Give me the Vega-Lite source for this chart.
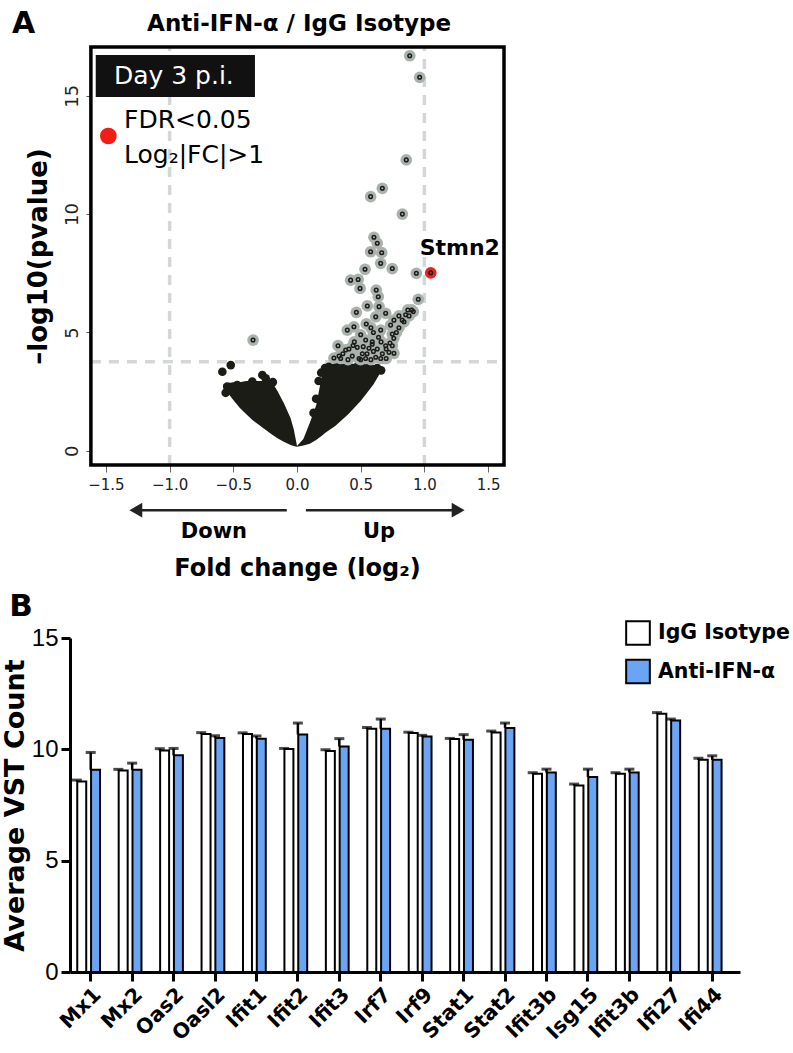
{
  "$schema": "https://vega.github.io/schema/vega-lite/v6.json",
  "padding": {"left": 1, "top": 9, "right": 5, "bottom": 5},
  "config": {"font": "DejaVu Sans", "view": {"stroke": null}, "axis": {"grid": false}},
  "bounds": "flush",
  "spacing": 173,
  "datasets": {
    "sig": [
      {"x": 0.885, "y": 16.69}, {"x": 0.963, "y": 15.78}, {"x": 0.858, "y": 12.29}, {"x": 0.67, "y": 11.09},
      {"x": 0.578, "y": 10.74}, {"x": 0.827, "y": 10.0}, {"x": 0.604, "y": 9.02}, {"x": 0.63, "y": 8.77},
      {"x": 0.578, "y": 8.41}, {"x": 0.665, "y": 8.37}, {"x": 0.657, "y": 7.92}, {"x": 0.748, "y": 7.7},
      {"x": 0.534, "y": 7.67}, {"x": 0.937, "y": 7.5}, {"x": 0.421, "y": 7.21}, {"x": 0.48, "y": 7.24},
      {"x": 0.495, "y": 6.86}, {"x": 0.622, "y": 6.79}, {"x": 0.638, "y": 6.51}, {"x": 0.952, "y": 6.4},
      {"x": 0.913, "y": 5.88}, {"x": 0.853, "y": 5.75}, {"x": 0.466, "y": 5.85}, {"x": 0.552, "y": 6.12},
      {"x": 0.644, "y": 6.09}, {"x": 0.696, "y": 5.81}, {"x": 0.761, "y": 5.52}, {"x": 0.826, "y": 5.52},
      {"x": 0.618, "y": 5.66}, {"x": 0.544, "y": 5.36}, {"x": 0.447, "y": 5.24}, {"x": 0.395, "y": 5.1},
      {"x": 0.657, "y": 5.1}, {"x": 0.748, "y": 4.93}, {"x": 0.539, "y": 4.68}, {"x": 0.322, "y": 4.44},
      {"x": 0.408, "y": 4.3}, {"x": 0.473, "y": 4.37}, {"x": 0.59, "y": 4.5}, {"x": 0.696, "y": 4.44},
      {"x": 0.748, "y": 4.44}, {"x": 0.722, "y": 4.16}, {"x": 0.33, "y": 4.0}, {"x": 0.434, "y": 4.0},
      {"x": 0.513, "y": 4.1}, {"x": 0.618, "y": 3.95}, {"x": 0.539, "y": 3.9}, {"x": 0.657, "y": 3.9},
      {"x": 0.591, "y": 4.61}, {"x": 0.761, "y": 4.12}, {"x": 0.382, "y": 4.26}, {"x": 0.565, "y": 4.33},
      {"x": 0.487, "y": 3.9}, {"x": 0.343, "y": 3.9}, {"x": 0.735, "y": 5.31}, {"x": 0.8, "y": 5.7},
      {"x": 0.87, "y": 5.95}, {"x": 0.6, "y": 4.2}, {"x": 0.45, "y": 4.6}, {"x": -0.345, "y": 4.68},
      {"x": 0.78, "y": 5.0}, {"x": 0.8, "y": 5.2}, {"x": 0.84, "y": 5.45}, {"x": 0.88, "y": 5.7},
      {"x": 0.9, "y": 5.95}, {"x": 0.76, "y": 4.75}, {"x": 0.73, "y": 4.55}, {"x": 0.7, "y": 4.3},
      {"x": 0.67, "y": 4.1}, {"x": 0.5, "y": 3.85}, {"x": 0.4, "y": 3.85}, {"x": 0.36, "y": 4.1},
      {"x": 0.58, "y": 3.85}, {"x": 0.44, "y": 4.45}, {"x": 0.63, "y": 4.3}, {"x": 0.66, "y": 4.6},
      {"x": 0.55, "y": 4.1}, {"x": 0.6, "y": 5.0}, {"x": 0.5, "y": 4.9}, {"x": 0.58, "y": 5.2},
      {"x": 0.7, "y": 3.9}, {"x": 0.29, "y": 3.92}, {"x": 0.52, "y": 4.4}, {"x": 0.64, "y": 4.8}
    ],
    "bars": [
      {"gene": "Mx1", "group": "IgG Isotype", "value": 8.56, "hi": 8.62},
      {"gene": "Mx1", "group": "Anti-IFN-α", "value": 9.08, "hi": 9.86},
      {"gene": "Mx2", "group": "IgG Isotype", "value": 9.05, "hi": 9.1},
      {"gene": "Mx2", "group": "Anti-IFN-α", "value": 9.08, "hi": 9.38},
      {"gene": "Oas2", "group": "IgG Isotype", "value": 9.95, "hi": 10.03},
      {"gene": "Oas2", "group": "Anti-IFN-α", "value": 9.73, "hi": 10.04},
      {"gene": "Oasl2", "group": "IgG Isotype", "value": 10.69, "hi": 10.75},
      {"gene": "Oasl2", "group": "Anti-IFN-α", "value": 10.51, "hi": 10.61},
      {"gene": "Ifit1", "group": "IgG Isotype", "value": 10.69, "hi": 10.74},
      {"gene": "Ifit1", "group": "Anti-IFN-α", "value": 10.48, "hi": 10.6},
      {"gene": "Ifit2", "group": "IgG Isotype", "value": 10.01, "hi": 10.04},
      {"gene": "Ifit2", "group": "Anti-IFN-α", "value": 10.67, "hi": 11.18},
      {"gene": "Ifit3", "group": "IgG Isotype", "value": 9.92, "hi": 9.98},
      {"gene": "Ifit3", "group": "Anti-IFN-α", "value": 10.13, "hi": 10.48},
      {"gene": "Irf7", "group": "IgG Isotype", "value": 10.92, "hi": 10.98},
      {"gene": "Irf7", "group": "Anti-IFN-α", "value": 10.92, "hi": 11.36},
      {"gene": "Irf9", "group": "IgG Isotype", "value": 10.73, "hi": 10.77},
      {"gene": "Irf9", "group": "Anti-IFN-α", "value": 10.58, "hi": 10.63},
      {"gene": "Stat1", "group": "IgG Isotype", "value": 10.46, "hi": 10.49},
      {"gene": "Stat1", "group": "Anti-IFN-α", "value": 10.43, "hi": 10.66},
      {"gene": "Stat2", "group": "IgG Isotype", "value": 10.76, "hi": 10.82},
      {"gene": "Stat2", "group": "Anti-IFN-α", "value": 10.96, "hi": 11.18},
      {"gene": "Ifit3b", "group": "IgG Isotype", "value": 8.9, "hi": 8.95},
      {"gene": "Ifit3b", "group": "Anti-IFN-α", "value": 8.96, "hi": 9.11},
      {"gene": "Isg15", "group": "IgG Isotype", "value": 8.38, "hi": 8.44},
      {"gene": "Isg15", "group": "Anti-IFN-α", "value": 8.76, "hi": 9.11},
      {"gene": "Ifit3b·2", "group": "IgG Isotype", "value": 8.9, "hi": 8.95},
      {"gene": "Ifit3b·2", "group": "Anti-IFN-α", "value": 8.96, "hi": 9.11},
      {"gene": "Ifi27", "group": "IgG Isotype", "value": 11.6, "hi": 11.65},
      {"gene": "Ifi27", "group": "Anti-IFN-α", "value": 11.3, "hi": 11.36},
      {"gene": "Ifi44", "group": "IgG Isotype", "value": 9.53, "hi": 9.6},
      {"gene": "Ifi44", "group": "Anti-IFN-α", "value": 9.53, "hi": 9.71}
    ]
  },
  "vconcat": [
    {
      "width": 434,
      "height": 418,
      "encoding": {
        "x": {"field": "x", "type": "quantitative",
              "scale": {"domain": [-1.782, 1.625], "nice": false, "zero": false},
              "axis": {"values": [-1.5, -1, -0.5, 0, 0.5, 1, 1.5], "format": ".1f", "title": "Fold change (log₂)",
                       "titleFont": "DejaVu Sans", "titleFontSize": 24, "titleFontWeight": "bold", "titleColor": "black", "titlePadding": 64, "titleX": 227,
                       "labelFont": "DejaVu Sans", "labelFontSize": 15, "labelColor": "#222", "labelFlush": false, "labelPadding": 5,
                       "tickSize": 7, "tickColor": "#666", "domain": false}},
        "y": {"field": "y", "type": "quantitative",
              "scale": {"domain": [-0.6, 17.06], "nice": false, "zero": false},
              "axis": {"values": [0, 5, 10, 15], "title": "–log10(pvalue)", "titleFont": "DejaVu Sans", "titleFontSize": 26, "titleFontWeight": "bold",
                       "titleColor": "black", "titlePadding": 12, "labelAngle": -90, "labelFont": "DejaVu Sans", "labelFontSize": 18, "labelColor": "#222",
                       "labelPadding": 5, "tickSize": 5, "tickColor": "#555", "domain": false, "offset": -21}}
      },
      "layer": [
        {
          "data": {"values": [
            {"x": -1, "x2": -1, "y": -0.6, "y2": 17.06},
            {"x": 1, "x2": 1, "y": -0.6, "y2": 17.06},
            {"x": -1.618, "x2": 1.625, "y": 3.76, "y2": 3.76}
          ]},
          "mark": {"type": "rule", "color": "#d3d7d8", "strokeWidth": 3.5, "strokeDash": [10, 8]},
          "encoding": {"x2": {"field": "x2"}, "y2": {"field": "y2"}}
        },
        {
          "data": {"values": [
            {"w": "L", "x": -0.58, "y": 2.7, "y2": 2.8}, {"w": "L", "x": -0.55, "y": 2.5, "y2": 2.85},
            {"w": "L", "x": -0.5, "y": 2.15, "y2": 2.9}, {"w": "L", "x": -0.45, "y": 1.82, "y2": 2.9},
            {"w": "L", "x": -0.4, "y": 1.55, "y2": 2.95}, {"w": "L", "x": -0.35, "y": 1.3, "y2": 2.95},
            {"w": "L", "x": -0.3, "y": 1.1, "y2": 2.95}, {"w": "L", "x": -0.25, "y": 0.9, "y2": 2.95},
            {"w": "L", "x": -0.2, "y": 0.7, "y2": 2.95}, {"w": "L", "x": -0.15, "y": 0.52, "y2": 2.5},
            {"w": "L", "x": -0.1, "y": 0.37, "y2": 1.98}, {"w": "L", "x": -0.05, "y": 0.24, "y2": 1.38},
            {"w": "L", "x": -0.025, "y": 0.2, "y2": 0.9}, {"w": "L", "x": 0, "y": 0.17, "y2": 0.2},
            {"w": "R", "x": 0, "y": 0.17, "y2": 0.2}, {"w": "R", "x": 0.05, "y": 0.22, "y2": 0.5},
            {"w": "R", "x": 0.1, "y": 0.3, "y2": 1.17}, {"w": "R", "x": 0.15, "y": 0.46, "y2": 1.91},
            {"w": "R", "x": 0.2, "y": 0.66, "y2": 3.29}, {"w": "R", "x": 0.22, "y": 0.75, "y2": 3.65},
            {"w": "R", "x": 0.3, "y": 1.05, "y2": 3.68}, {"w": "R", "x": 0.4, "y": 1.53, "y2": 3.68},
            {"w": "R", "x": 0.5, "y": 2.1, "y2": 3.68}, {"w": "R", "x": 0.6, "y": 2.8, "y2": 3.62},
            {"w": "R", "x": 0.67, "y": 3.45, "y2": 3.55}
          ]},
          "mark": {"type": "area", "color": "#1c1c17"},
          "encoding": {"y2": {"field": "y2"}, "detail": {"field": "w"}}
        },
        {
          "data": {"values": [
            {"x": -0.586, "y": 3.34}, {"x": -0.52, "y": 3.62}, {"x": -0.547, "y": 2.71}, {"x": -0.469, "y": 2.78},
            {"x": -0.351, "y": 2.92}, {"x": -0.272, "y": 3.2}, {"x": -0.246, "y": 3.06}, {"x": -0.207, "y": 2.49},
            {"x": -0.429, "y": 2.42}, {"x": -0.5, "y": 2.5}, {"x": -0.3, "y": 2.7}, {"x": -0.4, "y": 2.6},
            {"x": -0.23, "y": 2.7}, {"x": -0.56, "y": 2.45}, {"x": -0.19, "y": 2.9}, {"x": 0.17, "y": 2.95},
            {"x": 0.15, "y": 2.2}, {"x": 0.13, "y": 1.6}, {"x": 0.25, "y": 3.55}, {"x": 0.32, "y": 3.6},
            {"x": 0.4, "y": 3.6}, {"x": 0.48, "y": 3.6}, {"x": 0.56, "y": 3.58}, {"x": 0.63, "y": 3.5},
            {"x": 0.66, "y": 3.4}, {"x": 0.19, "y": 3.3}, {"x": 0.22, "y": 3.5}
          ]},
          "mark": {"type": "point", "filled": true, "color": "#1c1c17", "size": 75, "opacity": 1}
        },
        {
          "data": {"name": "sig"},
          "mark": {"type": "point", "filled": true, "color": "#aab2ae", "size": 137, "opacity": 1}
        },
        {
          "data": {"name": "sig"},
          "mark": {"type": "point", "filled": false, "color": "#1c1c17", "strokeWidth": 1.5, "size": 13, "opacity": 1}
        },
        {
          "data": {"values": [{"x": 1.05, "y": 7.52}]},
          "mark": {"type": "point", "filled": true, "color": "#e3261d", "size": 137, "opacity": 1}
        },
        {
          "data": {"values": [{"x": 1.05, "y": 7.52}]},
          "mark": {"type": "point", "filled": false, "color": "#1c1c17", "strokeWidth": 1.5, "size": 13, "opacity": 1}
        },
        {
          "data": {"values": [{"x": -1.58, "x2": -0.33, "y": 14.95, "y2": 16.72}]},
          "mark": {"type": "rect", "color": "#111"},
          "encoding": {"x2": {"field": "x2"}, "y2": {"field": "y2"}}
        },
        {
          "data": {"values": [{"x": -1.437, "y": 15.84, "label": "Day 3 p.i."}]},
          "mark": {"type": "text", "color": "white", "font": "DejaVu Sans", "fontSize": 25, "align": "left", "baseline": "middle"},
          "encoding": {"text": {"field": "label"}}
        },
        {
          "data": {"values": [{"x": -1.481, "y": 13.3}]},
          "mark": {"type": "point", "filled": true, "color": "#f01e14", "size": 280, "opacity": 1}
        },
        {
          "data": {"values": [
            {"x": -1.358, "y": 13.97, "label": "FDR<0.05"},
            {"x": -1.358, "y": 12.49, "label": "Log₂|FC|>1"}
          ]},
          "mark": {"type": "text", "color": "black", "font": "DejaVu Sans", "fontSize": 25, "align": "left", "baseline": "middle"},
          "encoding": {"text": {"field": "label"}}
        },
        {
          "data": {"values": [{"x": 1.278, "y": 8.58, "label": "Stmn2"}]},
          "mark": {"type": "text", "color": "black", "font": "DejaVu Sans", "fontSize": 22, "fontWeight": "bold", "align": "center", "baseline": "middle"},
          "encoding": {"text": {"field": "label"}}
        },
        {
          "data": {"values": [{"x": -1.618, "x2": 1.625, "y": -0.6, "y2": 17.06}]},
          "mark": {"type": "rect", "fillOpacity": 0, "stroke": "black", "strokeWidth": 3.5},
          "encoding": {"x2": {"field": "x2"}, "y2": {"field": "y2"}}
        },
        {
          "data": {"values": [
            {"x": -0.08, "x2": -1.25, "y": -2.51},
            {"x": 0.07, "x2": 1.25, "y": -2.51}
          ]},
          "mark": {"type": "rule", "color": "#222", "strokeWidth": 2.5},
          "encoding": {"x2": {"field": "x2"}}
        },
        {
          "data": {"values": [
            {"x": -1.265, "y": -2.51, "shape": "triangle-left"},
            {"x": 1.265, "y": -2.51, "shape": "triangle-right"}
          ]},
          "mark": {"type": "point", "filled": true, "color": "#222", "size": 220, "opacity": 1},
          "encoding": {"shape": {"field": "shape", "type": "nominal", "scale": null}}
        },
        {
          "data": {"values": [
            {"x": -0.652, "y": -3.42, "label": "Down"},
            {"x": 0.644, "y": -3.42, "label": "Up"}
          ]},
          "mark": {"type": "text", "color": "black", "font": "DejaVu Sans", "fontSize": 21, "fontWeight": "bold", "align": "center", "baseline": "middle"},
          "encoding": {"text": {"field": "label"}}
        },
        {
          "data": {"values": [
            {"x": 0.016, "y": 17.75, "label": "Anti-IFN-α / IgG Isotype"}
          ]},
          "mark": {"type": "text", "color": "black", "font": "DejaVu Sans", "fontSize": 23, "fontWeight": "bold", "align": "center", "baseline": "alphabetic"},
          "encoding": {"text": {"field": "label"}}
        },
        {
          "data": {"values": [
            {"x": -2.237, "y": 17.64, "label": "A"}
          ]},
          "mark": {"type": "text", "color": "black", "font": "DejaVu Sans", "fontSize": 30, "fontWeight": "bold", "align": "left", "baseline": "alphabetic"},
          "encoding": {"text": {"field": "label"}}
        }
      ]
    },
    {
      "width": 670,
      "height": 334,
      "title": {"text": "B", "anchor": "start", "frame": "bounds", "font": "DejaVu Sans", "fontSize": 31, "fontWeight": "bold", "color": "black", "baseline": "alphabetic", "offset": -21, "dx": 8},
      "data": {"name": "bars"},
      "encoding": {
        "x": {"field": "gene", "type": "nominal", "sort": null,
              "scale": {"paddingInner": 0, "paddingOuter": 0.085, "align": 0},
              "axis": {"title": null, "labelAngle": -45, "labelFont": "DejaVu Sans", "labelFontSize": 20.5, "labelFontWeight": "bold", "labelColor": "black",
                       "labelExpr": "split(datum.label, '·')[0]", "labelPadding": 3,
                       "tickSize": 9, "tickWidth": 3, "tickColor": "black", "domainWidth": 3, "domainColor": "black"}},
        "xOffset": {"field": "group", "type": "nominal",
                    "scale": {"domain": ["IgG Isotype", "Anti-IFN-α", "_"], "paddingInner": 0, "paddingOuter": 0}}
      },
      "layer": [
        {
          "mark": {"type": "bar", "stroke": "black", "strokeWidth": 2, "width": {"band": 0.65}},
          "encoding": {
            "y": {"field": "value", "type": "quantitative", "scale": {"domain": [0, 15], "nice": false},
                  "axis": {"values": [0, 5, 10, 15], "title": "Average VST Count", "titleFont": "DejaVu Sans", "titleFontSize": 27, "titleFontWeight": "bold",
                           "titleColor": "black", "titlePadding": 2, "labelFont": "Liberation Sans", "labelFontSize": 24, "labelColor": "black", "labelPadding": 3,
                           "tickSize": 9, "tickWidth": 3, "tickColor": "black", "domainWidth": 3, "domainColor": "black"}},
            "color": {"field": "group", "type": "nominal",
                      "scale": {"domain": ["IgG Isotype", "Anti-IFN-α"], "range": ["white", "#6ba4f2"]},
                      "legend": {"title": null, "orient": "none", "legendX": 555, "legendY": 573, "symbolType": "square",
                                 "symbolSize": 560, "symbolStrokeColor": "black", "symbolStrokeWidth": 2, "symbolOpacity": 1,
                                 "labelFont": "DejaVu Sans", "labelFontSize": 20.5, "labelFontWeight": "bold", "labelColor": "black", "labelOffset": 7,
                                 "rowPadding": 6.5, "padding": 0}}
          }
        },
        {
          "mark": {"type": "rule", "color": "black", "strokeWidth": 2.5},
          "encoding": {"y": {"field": "value", "type": "quantitative"}, "y2": {"field": "hi"}}
        },
        {
          "mark": {"type": "tick", "color": "black", "thickness": 3, "size": 10, "orient": "horizontal"},
          "encoding": {"y": {"field": "hi", "type": "quantitative"}}
        }
      ]
    }
  ]
}
